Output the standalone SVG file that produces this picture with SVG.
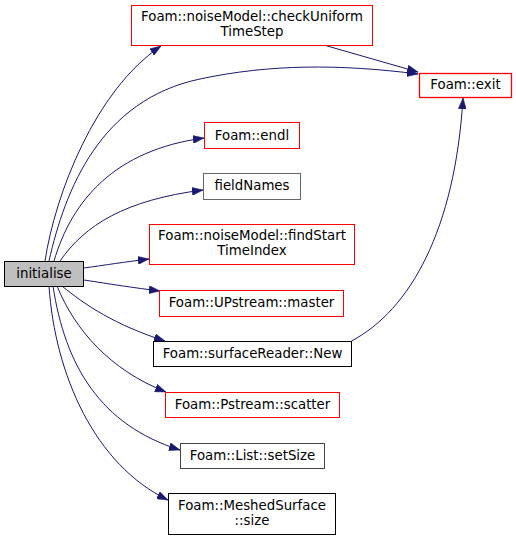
<svg xmlns="http://www.w3.org/2000/svg" width="516" height="540" viewBox="0 0 516 540">
<style>
.n rect{fill:#ffffff;stroke-width:1}
.red rect{stroke:#ff0000}
.blk rect{stroke:#000000}
.gry rect{stroke:#666666}
text{font-family:"DejaVu Sans",sans-serif;font-size:13.33px;fill:#000000;text-anchor:middle}
.e path{fill:none;stroke:#191970;stroke-width:1;marker-end:url(#ah)}
</style>
<defs>
<marker id="ah" markerUnits="userSpaceOnUse" markerWidth="11" markerHeight="8" viewBox="0 0 11 8" refX="11" refY="4" orient="auto">
<path d="M0,0 L11,4 L0,8 z" fill="#191970" stroke="#191970" stroke-width="0.5"/>
</marker>
</defs>
<rect width="516" height="540" fill="#ffffff"/>
<g class="e" id="edges">
<path d="M45,261 C55,195 95,90 161,46"/>
<path d="M49,261 C65,190 100,100 200,79 C270,64 340,64 418,74"/>
<path d="M325.5,45.5 L418,72"/>
<path d="M54,261 C72,200 115,150 204,138"/>
<path d="M60,261 C85,225 125,200 203,190"/>
<path d="M84,268 C105,265 125,262 149,259"/>
<path d="M84,280 C110,284 135,288 160,291"/>
<path d="M62,286 C85,305 115,325 165,341"/>
<path d="M57,286 C75,330 110,370 166,392"/>
<path d="M53,286 C65,365 100,425 180,450"/>
<path d="M49,286 C55,375 95,465 168,500"/>
<path d="M351.5,341 C410,310 455,230 463,98"/>
</g>
<g class="n blk" id="initialise"><rect x="4.5" y="261.5" width="79" height="25" style="fill:#bfbfbf"/><text x="44" y="278">initialise</text></g>
<g class="n red" id="checkUniform"><rect x="131.5" y="5.5" width="241" height="40"/><text x="252" y="21">Foam::noiseModel::checkUniform</text><text x="252" y="36">TimeStep</text></g>
<g class="n red" id="node_exit"><rect x="419.5" y="73.5" width="92" height="24" style="stroke:#ff0000;stroke-width:1.3"/><text x="465.5" y="89">Foam::exit</text></g>
<g class="n red" id="endl"><rect x="204.5" y="122.5" width="95" height="26"/><text x="252" y="139.5">Foam::endl</text></g>
<g class="n gry" id="fieldNames"><rect x="203.5" y="173.5" width="97" height="26"/><text x="252" y="190">fieldNames</text></g>
<g class="n red" id="findStart"><rect x="149.5" y="224.5" width="205" height="40"/><text x="252" y="240">Foam::noiseModel::findStart</text><text x="252" y="255">TimeIndex</text></g>
<g class="n red" id="master"><rect x="159.5" y="290.5" width="184" height="26"/><text x="251.5" y="307">Foam::UPstream::master</text></g>
<g class="n blk" id="New"><rect x="153.5" y="341.5" width="198" height="25"/><text x="252.5" y="358">Foam::surfaceReader::New</text></g>
<g class="n red" id="scatter"><rect x="165.5" y="392.5" width="174" height="25"/><text x="252.5" y="408.5">Foam::Pstream::scatter</text></g>
<g class="n gry" id="setSize"><rect x="180.5" y="443.5" width="144" height="25" style="stroke:#444444"/><text x="252.5" y="459.5">Foam::List::setSize</text></g>
<g class="n blk" id="MeshedSurface"><rect x="168.5" y="493.5" width="167" height="41"/><text x="252" y="509.5">Foam::MeshedSurface</text><text x="252" y="524.5">::size</text></g>
</svg>
